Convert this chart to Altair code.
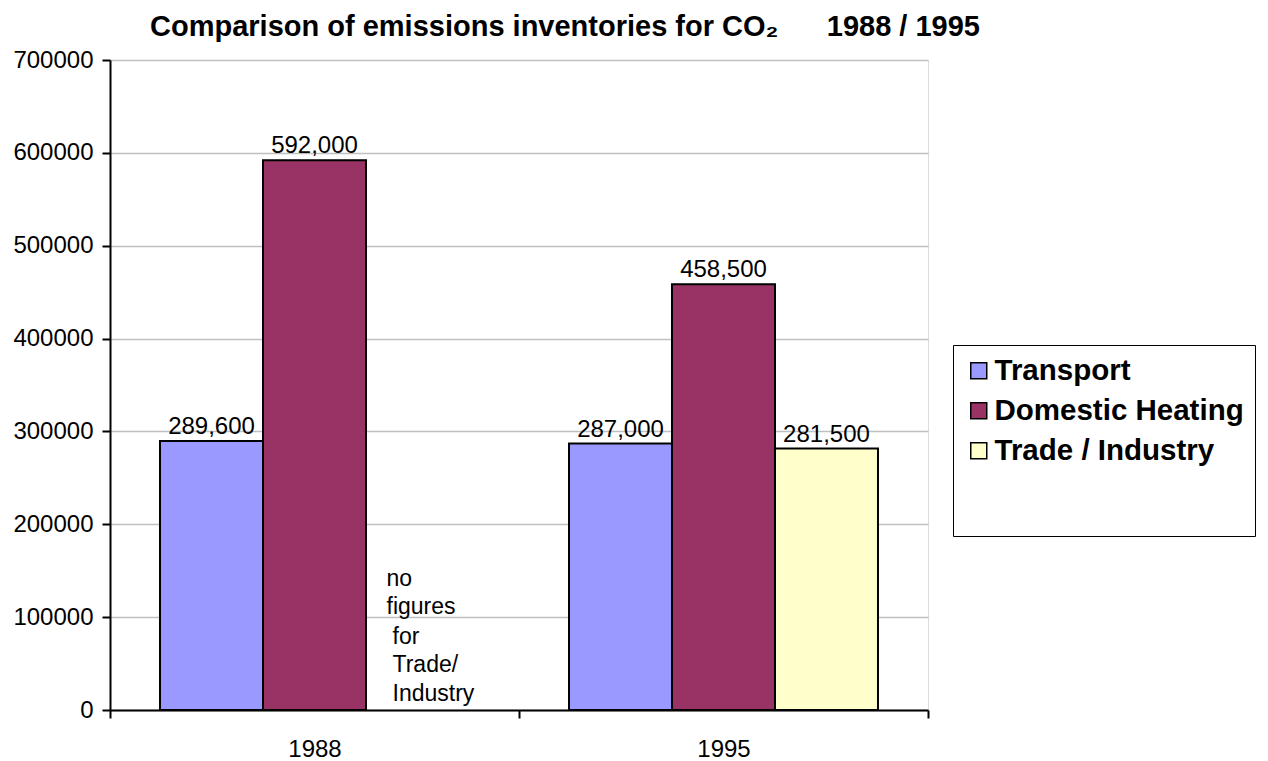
import altair as alt
import pandas as pd

# --- chart values -------------------------------------------------------
years = ["1988", "1995"]
sectors = ["Transport", "Domestic Heating", "Trade / Industry"]
transport = [289600, 287000]
domestic_heating = [592000, 458500]
trade_industry = [None, 281500]          # no 1988 figure for trade / industry
sector_colors = ["#9999FF", "#993366", "#FFFFCC"]
y_ticks = [0, 100000, 200000, 300000, 400000, 500000, 600000, 700000]

# note placed in the empty 1988 trade / industry slot (two blocks, the
# second one indented a little)
note_year = "1988"
note_sector = "Trade / Industry"
note_blocks = [["no", "figures"], ["for", "Trade/", "Industry"]]
note_levels = [153000, 90500]

FONT = "Liberation Sans"
LINE_H = 28.3

rows = []
for name, series in zip(sectors, [transport, domestic_heating, trade_industry]):
    for yr, v in zip(years, series):
        if v is not None:
            rows.append({"year": yr, "sector": name, "value": v})
df = pd.DataFrame(rows)

x_enc = alt.X(
    "year:N",
    title=None,
    sort=years,
    scale=alt.Scale(paddingInner=0, paddingOuter=0),
    axis=alt.Axis(
        labelAngle=0,
        tickBand="extent",
        domainColor="black",
        domainWidth=2,
        tickColor="black",
        tickWidth=2,
        tickSize=8,
        labelFont=FONT,
        labelFontSize=24,
        labelColor="black",
        labelPadding=19,
        grid=False,
    ),
)
xo_enc = alt.XOffset(
    "sector:N",
    sort=sectors,
    scale=alt.Scale(domain=sectors, paddingInner=0, paddingOuter=0.4856),
)
y_enc = alt.Y(
    "value:Q",
    title=None,
    scale=alt.Scale(domain=[0, 700000], nice=False),
    axis=alt.Axis(
        values=y_ticks,
        format="d",
        grid=True,
        gridColor="#c0c0c0",
        gridWidth=1.5,
        domainColor="black",
        domainWidth=2,
        tickColor="black",
        tickWidth=2,
        tickSize=8,
        labelFont=FONT,
        labelFontSize=24,
        labelColor="black",
        labelPadding=9,
    ),
)

bars = alt.Chart(df).mark_bar(stroke="black", strokeWidth=2).encode(
    x=x_enc,
    xOffset=xo_enc,
    y=y_enc,
    color=alt.Color(
        "sector:N",
        scale=alt.Scale(domain=sectors, range=sector_colors),
        legend=alt.Legend(
            # blank bottom title pads the legend frame out to its full height
            title="\u00a0" * 36,
            titleOrient="bottom",
            titleFontSize=30.5,
            titlePadding=29,
            orient="none",
            legendX=843,
            legendY=285,
            direction="vertical",
            strokeColor="black",
            fillColor="white",
            padding=11,
            symbolType="square",
            symbolSize=256,
            symbolStrokeColor="black",
            symbolStrokeWidth=1.5,
            labelFont=FONT,
            labelFontSize=29.5,
            labelFontWeight="bold",
            labelColor="black",
            labelOffset=1,
            labelLimit=400,
            rowPadding=9,
        ),
    ),
)

values = alt.Chart(df).mark_text(
    baseline="bottom", dy=-2, font=FONT, fontSize=24, color="black"
).encode(
    x=x_enc,
    xOffset=xo_enc,
    y=y_enc,
    text=alt.Text("value:Q", format=","),
)

note_layers = []
for lines, level, shift in zip(note_blocks, note_levels, [-31, -25]):
    block_df = pd.DataFrame({
        "year": [note_year],
        "sector": [note_sector],
        "value": [level],
        "note": ["\n".join(lines)],
    })
    note_layers.append(
        alt.Chart(block_df).mark_text(
            align="left",
            baseline="top",
            lineBreak="\n",
            lineHeight=LINE_H,
            dx=shift,
            font=FONT,
            fontSize=23,
            color="black",
        ).encode(
            x=x_enc,
            xOffset=xo_enc,
            y=y_enc,
            text="note:N",
        )
    )

title_text = "Comparison of emissions inventories for CO\u2082" + "\u00a0" * 6 + "1988 / 1995"

chart = (
    alt.layer(bars, values, *note_layers)
    .properties(
        width=818,
        height=650,
        padding={"left": 110, "top": 60, "right": 340, "bottom": 51},
        autosize=alt.AutoSizeParams(type="none"),
        title=alt.TitleParams(
            text=title_text,
            font=FONT,
            fontSize=29,
            fontWeight="bold",
            color="black",
            anchor="start",
            frame="group",
            dx=40,
            offset=6,
        ),
    )
    .configure_view(stroke="#808080", strokeWidth=2)
    .configure_legend(strokeWidth=2)
    .configure(background="white")
)

chart.save("out.html", embed_options={"renderer": "svg", "actions": False})
